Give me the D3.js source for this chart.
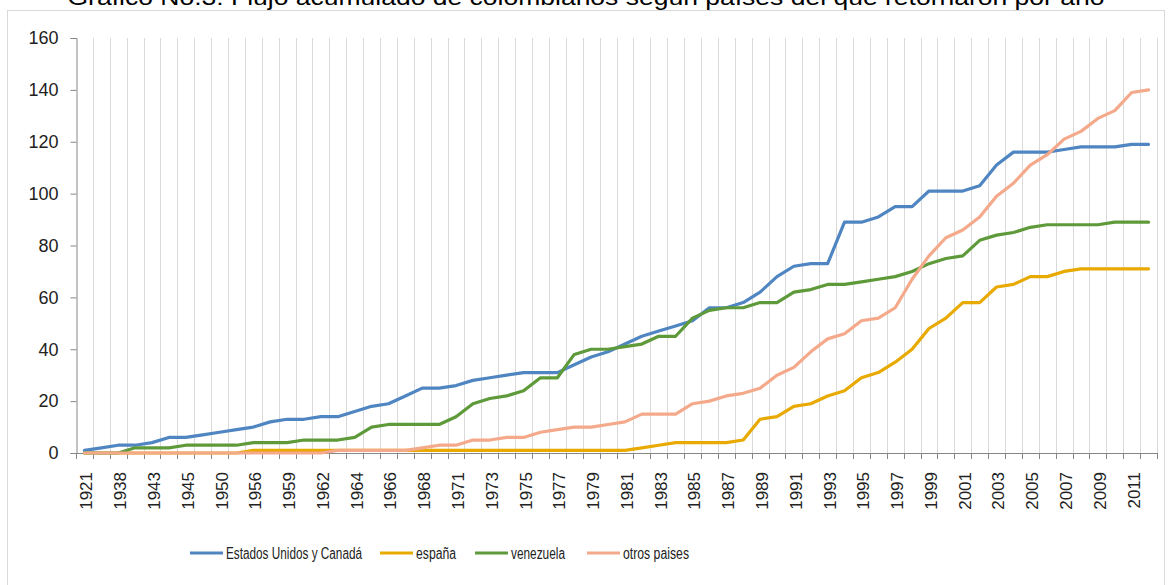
<!DOCTYPE html>
<html>
<head>
<meta charset="utf-8">
<script src="https://cdn.jsdelivr.net/npm/d3@7"></script>
<style>
  body { margin: 0; background: #fff; }
  svg { display: block; font-family: "Liberation Sans", Arial, sans-serif; }
</style>
</head>
<body>
<script>
// categorias (años) - solo se ve una etiqueta de cada dos
var years = ["1921","1930","1938","1940","1943","1944","1945","1948","1950","1953",
  "1956","1957","1959","1960","1962","1963","1964","1965","1966","1967",
  "1968","1970","1971","1972","1973","1974","1975","1976","1977","1978",
  "1979","1980","1981","1982","1983","1984","1985","1986","1987","1988",
  "1989","1990","1991","1992","1993","1994","1995","1996","1997","1998",
  "1999","2000","2001","2002","2003","2004","2005","2006","2007","2008",
  "2009","2010","2011","2012"];

var estadosUnidos = [1,2,3,3,4,6,6,7,8,9, 10,12,13,13,14,14,16,18,19,22,
  25,25,26,28,29,30,31,31,31,34, 37,39,42,45,47,49,51,56,56,58,
  62,68,72,73,73,89,89,91,95,95, 101,101,101,103,111,116,116,116,117,118,
  118,118,119,119];
var espana = [0,0,0,0,0,0,0,0,0,0, 1,1,1,1,1,1,1,1,1,1,
  1,1,1,1,1,1,1,1,1,1, 1,1,1,2,3,4,4,4,4,5,
  13,14,18,19,22,24,29,31,35,40, 48,52,58,58,64,65,68,68,70,71,
  71,71,71,71];
var venezuela = [0,0,0,2,2,2,3,3,3,3, 4,4,4,5,5,5,6,10,11,11,
  11,11,14,19,21,22,24,29,29,38, 40,40,41,42,45,45,52,55,56,56,
  58,58,62,63,65,65,66,67,68,70, 73,75,76,82,84,85,87,88,88,88,
  88,89,89,89];
var otros = [0,0,0,0,0,0,0,0,0,0, 0,0,0,0,0,1,1,1,1,1,
  2,3,3,5,5,6,6,8,9,10, 10,11,12,15,15,15,19,20,22,23,
  25,30,33,39,44,46,51,52,56,67, 76,83,86,91,99,104,111,115,121,124,
  129,132,139,140];

var seriesNames = ["Estados Unidos y Canadá", "españa", "venezuela", "otros paises"];
var seriesData = [estadosUnidos, espana, venezuela, otros];
var colors = ["#4f86c2", "#e8a900", "#5e9a3a", "#f4a98b"];
var yTicks = [0,20,40,60,80,100,120,140,160];

var width = 1172, height = 585;
var plot = {left: 76, right: 1157, top: 38, bottom: 453};

var svg = d3.select("body").append("svg")
  .attr("width", width)
  .attr("height", height);

// marco del grafico
svg.append("rect")
  .attr("x", 7.5).attr("y", 10.5)
  .attr("width", 1157).attr("height", 600)
  .attr("fill", "none")
  .attr("stroke", "#d9d9d9");

// titulo (cortado arriba en la imagen original)
svg.append("text")
  .attr("x", 586).attr("y", 5)
  .attr("text-anchor", "middle")
  .attr("font-size", 22)
  .attr("textLength", 1037)
  .attr("lengthAdjust", "spacingAndGlyphs")
  .attr("fill", "#000")
  .text("Gráfico No.3: Flujo acumulado de colombianos según países del que retornaron por año");

var x = d3.scaleBand().domain(years).range([plot.left, plot.right]).padding(0);
var y = d3.scaleLinear().domain([0, 160]).range([plot.bottom, plot.top]);

// lineas verticales de la grilla
var bounds = years.map(function(d){ return x(d); }).concat([plot.right]);
svg.selectAll(".grid").data(bounds.slice(1)).enter().append("line")
  .attr("class", "grid")
  .attr("x1", function(d){ return Math.round(d) + 0.5; })
  .attr("x2", function(d){ return Math.round(d) + 0.5; })
  .attr("y1", plot.top).attr("y2", plot.bottom)
  .attr("stroke", "#d9d9d9");

// eje y
var yAxis = svg.append("g")
  .attr("transform", "translate(" + (plot.left + 0.5) + ",0)")
  .call(d3.axisLeft(y).tickValues(yTicks).tickSize(6).tickPadding(12));
yAxis.select(".domain").attr("stroke", "#868686");
yAxis.selectAll(".tick line").attr("stroke", "#868686");
yAxis.selectAll(".tick text")
  .attr("font-size", 18)
  .attr("font-family", "Liberation Sans, Arial, sans-serif")
  .attr("fill", "#222");

// eje x: linea y marcas entre categorias
svg.append("line")
  .attr("x1", plot.left).attr("x2", plot.right)
  .attr("y1", plot.bottom + 0.5).attr("y2", plot.bottom + 0.5)
  .attr("stroke", "#868686");
svg.selectAll(".xtick").data(bounds).enter().append("line")
  .attr("class", "xtick")
  .attr("x1", function(d){ return Math.round(d) + 0.5; })
  .attr("x2", function(d){ return Math.round(d) + 0.5; })
  .attr("y1", plot.bottom).attr("y2", plot.bottom + 6)
  .attr("stroke", "#868686");

var xAxis = svg.append("g")
  .attr("transform", "translate(0," + plot.bottom + ")")
  .call(d3.axisBottom(x)
    .tickValues(years.filter(function(d, i){ return i % 2 === 0; }))
    .tickSize(0));
xAxis.select(".domain").remove();
xAxis.selectAll(".tick text")
  .attr("font-size", 17)
  .attr("font-family", "Liberation Sans, Arial, sans-serif")
  .attr("fill", "#222")
  .attr("transform", "rotate(-90)")
  .attr("text-anchor", "end")
  .attr("x", -19)
  .attr("y", 2)
  .attr("dy", "0.35em");

// lineas de datos
var line = d3.line()
  .x(function(d, i){ return x(years[i]) + x.bandwidth() / 2; })
  .y(function(d){ return y(d); });

svg.selectAll(".serie").data(seriesData).enter().append("path")
  .attr("class", "serie")
  .attr("d", line)
  .attr("fill", "none")
  .attr("stroke", function(d, i){ return colors[i]; })
  .attr("stroke-width", 3.2)
  .attr("stroke-linejoin", "round")
  .attr("stroke-linecap", "round");

// leyenda
var legendX = [190, 380, 475, 587];
var legendW = [136, 40, 54, 66];
var legend = svg.selectAll(".legend").data(seriesNames).enter().append("g")
  .attr("class", "legend")
  .attr("transform", function(d, i){ return "translate(" + legendX[i] + ",553)"; });
legend.append("line")
  .attr("x1", 0).attr("x2", 33)
  .attr("y1", 0).attr("y2", 0)
  .attr("stroke", function(d, i){ return colors[i]; })
  .attr("stroke-width", 3.2);
legend.append("text")
  .attr("x", 36)
  .attr("dy", "0.35em")
  .attr("font-size", 16)
  .attr("font-family", "'Liberation Sans Narrow', 'Liberation Sans', Arial, sans-serif")
  .attr("textLength", function(d, i){ return legendW[i]; })
  .attr("lengthAdjust", "spacingAndGlyphs")
  .attr("fill", "#222")
  .text(function(d){ return d; });
</script>
</body>
</html>
